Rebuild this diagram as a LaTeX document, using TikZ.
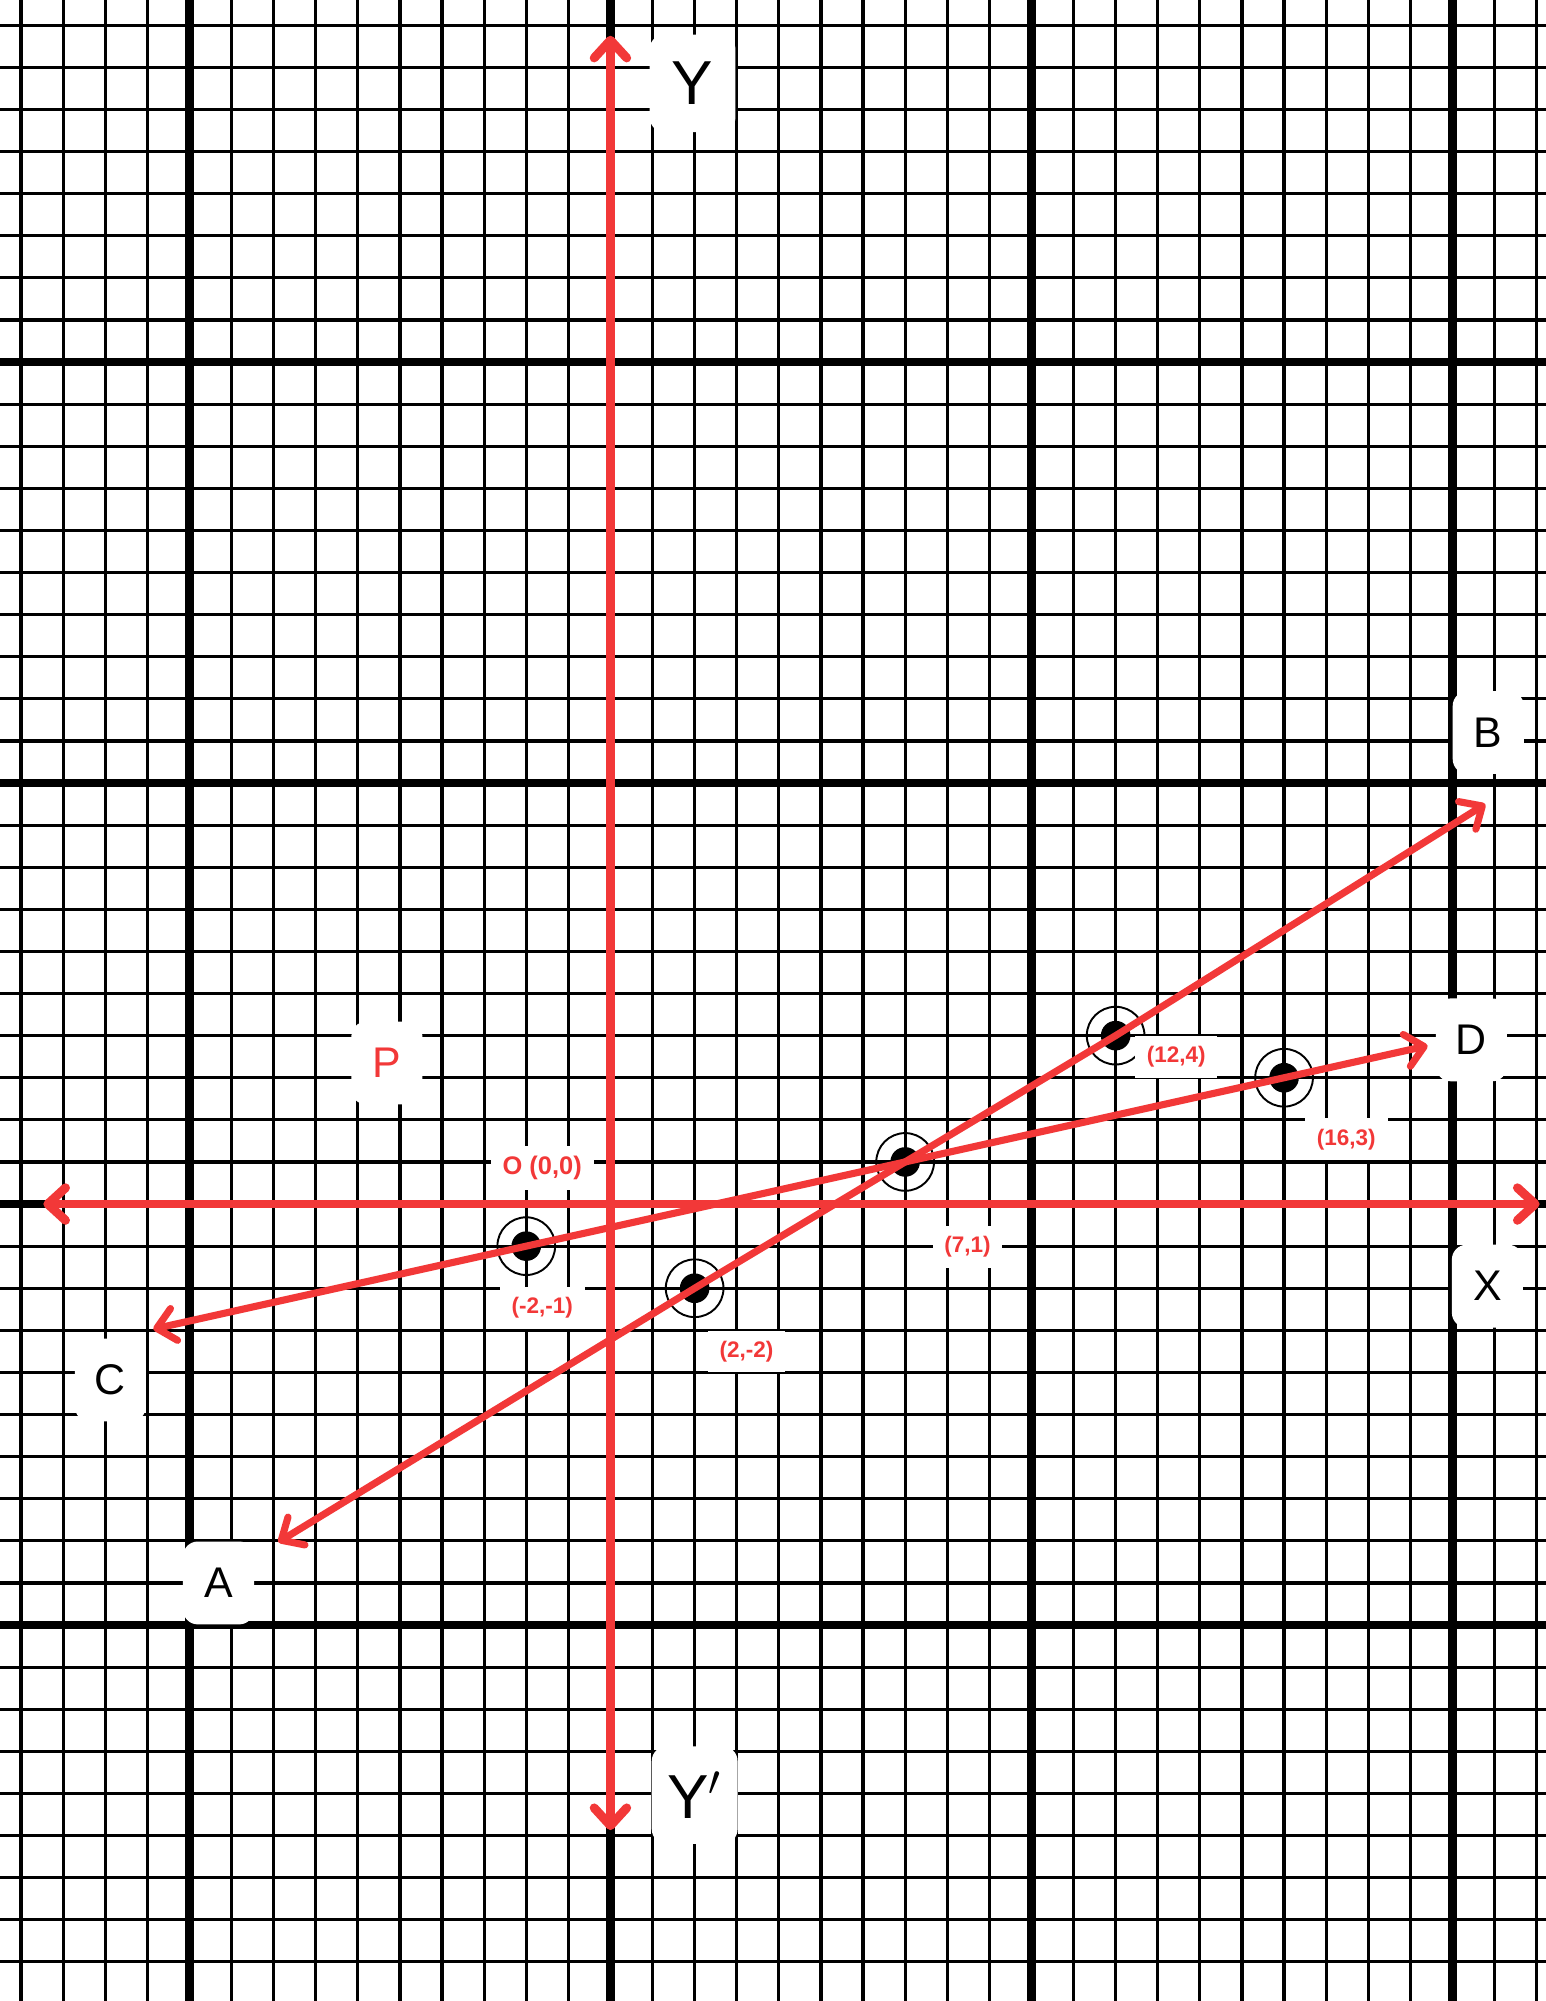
\documentclass[tikz,border=0pt]{standalone}
\usepackage{fontspec}
\setmainfont{Liberation Sans}
\usetikzlibrary{arrows.meta}
\definecolor{pen}{RGB}{242,56,56}
\tikzset{
    axis/.style={draw=pen,line width=3pt,line cap=round,<->},
    lineto/.style={draw=pen,line width=2.4pt,line cap=round,<->},
    ring/.style={circle,draw,line width=0.65pt,minimum size=19.5pt,inner sep=0pt},
    letter/.style={fill=white,rounded corners=5pt,minimum width=24pt,minimum height=28pt,font=\fontsize{14.5}{16}\selectfont},
    big/.style={letter,minimum width=29pt,minimum height=33pt,font=\fontsize{21}{24}\selectfont},
    coord/.style={fill=white,text=pen,inner xsep=4pt,minimum height=14pt,font=\bfseries\fontsize{7.6}{9}\selectfont}
}
\begin{document}
\begin{tikzpicture}[x=0.5cm,y=0.5cm,>={Straight Barb[length=6pt,width=11pt,round]}]
    \fill[white] (-14.5,-18.93) rectangle (22.22,28.6);
    \useasboundingbox (-14.5,-18.93) rectangle (22.22,28.6);
    \draw[line width=1.1pt,step=1] (-14.5,-18.93) grid (22.22,28.6);
    \draw[line width=3pt,step=10] (-14.5,-18.93) grid (22.22,28.6);

    \foreach \px/\py/\n in {-2/-1/m,2/-2/n,7/1/k,12/4/b,16/3/d}{
        \node[ring] (\n) at (\px,\py) {};
        \fill (\n) circle (5pt);
    }

    \coordinate (xl) at (-13.47,0);
    \coordinate (xr) at (22.07,0);
    \coordinate (yt) at (0,27.75);
    \coordinate (yb) at (0,-14.87);
    \coordinate (ctip) at (-10.86,-2.97);
    \coordinate (dtip) at (19.41,3.76);
    \coordinate (atip) at (-7.89,-8.03);
    \coordinate (btip) at (20.78,9.5);

    \draw[axis] (xl) -- (xr);
    \draw[axis] (yb) -- (yt);
    \draw[lineto] (ctip) -- (m.center) -- (k.center) -- (d.center) -- (dtip);
    \draw[lineto] (atip) -- (n.center) -- (b.center) -- (btip);

    \node[big] (ylab) at (1.95,26.62) {Y};
    \node[big] (yplab) at (2.0,-14.04) {Y$'$};
    \node[letter] (xlab) at (20.83,-1.95) {X};
    \node[letter] (blab) at (20.85,11.2) {B};
    \node[letter] (dlab) at (20.45,3.9) {D};
    \node[letter] (clab) at (-11.88,-4.18) {C};
    \node[letter] (alab) at (-9.31,-9.0) {A};
    \node[letter,text=pen] (plab) at (-5.31,3.35) {P};

    \node[coord,font=\bfseries\fontsize{8.6}{10}\selectfont] (olab) at (-1.62,0.86) {O (0,0)};
    \node[coord] (mlab) at (-1.62,-2.47) {(-2,-1)};
    \node[coord] (nlab) at (3.23,-3.5) {(2,-2)};
    \node[coord] (klab) at (8.48,-1.02) {(7,1)};
    \node[coord] (blab2) at (13.44,3.49) {(12,4)};
    \node[coord] (dlab2) at (17.48,1.54) {(16,3)};
\end{tikzpicture}
\end{document}
